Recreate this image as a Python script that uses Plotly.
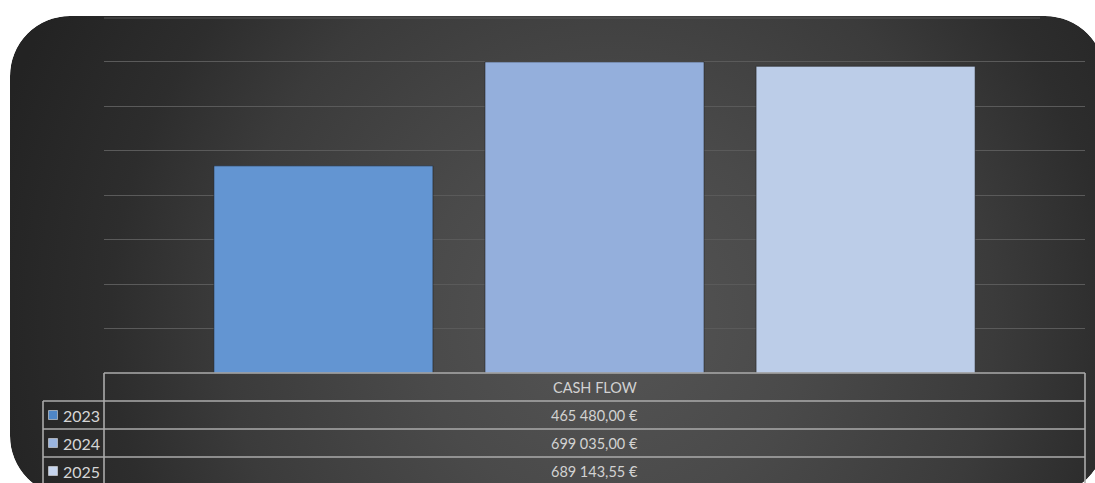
import base64
import plotly.graph_objects as go

# ---- data ----
category = ["CASH FLOW"]
years = ["2023", "2024", "2025"]
cash_flow = [465480.00, 699035.00, 689143.55]
bar_colors = ["#6395d2", "#94afdc", "#bccde8"]
key_colors = ["#4f86c6", "#9ab5e0", "#c6d5ee"]
y_max = 800000
y_step = 100000

W, H = 1095, 483


def px(x):
    return x / W


def py(y):
    return 1 - y / H


def fmt_eur(v):
    s = f"{v:,.2f}"
    s = s.replace(",", "\u202f").replace(".", ",")
    return s + "\u00a0€"


def svg_uri(s):
    return "data:image/svg+xml;base64," + base64.b64encode(s.encode()).decode()


panel_path = ("M70,16 H1045 A60,60 0 0 1 1105,76 V436 A60,60 0 0 1 1045,496 "
              "H70 A60,60 0 0 1 10,436 V76 A60,60 0 0 1 70,16 Z")

# background: white page with a dark rounded panel and radial gradient
bg_svg = f"""<svg xmlns='http://www.w3.org/2000/svg' width='{W}' height='{H}' viewBox='0 0 {W} {H}' preserveAspectRatio='none'>
<defs>
<radialGradient id='g' gradientUnits='userSpaceOnUse' cx='610' cy='320' r='640'>
<stop offset='0' stop-color='#555555'/>
<stop offset='0.3' stop-color='#4a4a4a'/>
<stop offset='0.6' stop-color='#3b3b3b'/>
<stop offset='0.78' stop-color='#2d2d2d'/>
<stop offset='1' stop-color='#232323'/>
</radialGradient>
</defs>
<rect x='0' y='0' width='{W}' height='{H}' fill='#ffffff'/>
<path d='{panel_path}' fill='url(#g)'/>
<line x1='104' y1='18' x2='1040' y2='18' stroke='#565656' stroke-width='1'/>
</svg>"""

# mask: white outside the rounded panel, drawn above everything
mask_svg = f"""<svg xmlns='http://www.w3.org/2000/svg' width='{W}' height='{H}' viewBox='0 0 {W} {H}' preserveAspectRatio='none'>
<path fill-rule='evenodd' fill='#ffffff' d='M0,0 H{W} V{H} H0 Z {panel_path}'/>
</svg>"""

fig = go.Figure()
for yr, val, col in zip(years, cash_flow, bar_colors):
    fig.add_trace(go.Bar(
        x=category, y=[val], name=yr,
        marker=dict(color=col, line=dict(color="rgba(30,30,30,0.55)", width=1)),
        showlegend=False, hoverinfo="skip",
    ))

shapes = []
annotations = []
line_col = "#ababab"
lw = 1.6
tbl_left, lab_left, tbl_right = 104, 43, 1085
header_top, row_tops = 373, [401, 429, 457]
bottom = 490

shapes.append(dict(type="line", xref="paper", yref="paper", x0=px(tbl_left), x1=px(tbl_right),
                   y0=py(header_top), y1=py(header_top), line=dict(color=line_col, width=lw)))
for rt in row_tops:
    shapes.append(dict(type="line", xref="paper", yref="paper", x0=px(lab_left), x1=px(tbl_right),
                       y0=py(rt), y1=py(rt), line=dict(color=line_col, width=lw)))
shapes.append(dict(type="line", xref="paper", yref="paper", x0=px(tbl_left), x1=px(tbl_left),
                   y0=py(header_top), y1=py(bottom), line=dict(color=line_col, width=lw)))
shapes.append(dict(type="line", xref="paper", yref="paper", x0=px(tbl_right), x1=px(tbl_right),
                   y0=py(header_top), y1=py(bottom), line=dict(color=line_col, width=lw)))
shapes.append(dict(type="line", xref="paper", yref="paper", x0=px(lab_left), x1=px(lab_left),
                   y0=py(row_tops[0]), y1=py(bottom), line=dict(color=line_col, width=lw)))

font = dict(family="Lato, 'Open Sans', sans-serif", size=14.5, color="#d2d2d2")
center_x = px((tbl_left + tbl_right) / 2)
annotations.append(dict(text=category[0], xref="paper", yref="paper", x=center_x, y=py(387),
                        showarrow=False, font=font, xanchor="center", yanchor="middle"))
for i, (yr, val, kc) in enumerate(zip(years, cash_flow, key_colors)):
    cy = row_tops[i] + 14
    annotations.append(dict(text=fmt_eur(val), xref="paper", yref="paper", x=center_x, y=py(cy),
                            showarrow=False, font=font, xanchor="center", yanchor="middle"))
    annotations.append(dict(text=yr, xref="paper", yref="paper", x=px(61), y=py(cy),
                            showarrow=False, font=dict(family=font["family"], size=16, color="#d6d6d6"),
                            xanchor="left", yanchor="middle"))
    shapes.append(dict(type="rect", xref="paper", yref="paper", x0=px(48.5), x1=px(57.5),
                       y0=py(cy - 4.5), y1=py(cy + 4.5), fillcolor=kc,
                       line=dict(color="#dddddd", width=0.6)))

fig.update_layout(
    template="none",
    width=W, height=H,
    margin=dict(l=0, r=0, t=0, b=0),
    paper_bgcolor="rgba(0,0,0,0)",
    plot_bgcolor="rgba(0,0,0,0)",
    barmode="group",
    bargap=0.171,
    bargroupgap=0.192,
    images=[
        dict(source=svg_uri(bg_svg), xref="paper", yref="paper", x=0, y=1, sizex=1, sizey=1,
             sizing="stretch", layer="below", xanchor="left", yanchor="top"),
        dict(source=svg_uri(mask_svg), xref="paper", yref="paper", x=0, y=1, sizex=1, sizey=1,
             sizing="stretch", layer="above", xanchor="left", yanchor="top"),
    ],
    xaxis=dict(domain=[px(tbl_left), px(tbl_right)], showticklabels=False, showgrid=False,
               zeroline=False, showline=False, ticks="", range=[-0.5, 0.5]),
    yaxis=dict(domain=[py(373), py(17)], range=[0, y_max], tickmode="array",
               tickvals=list(range(0, y_max, y_step)), showticklabels=False, ticks="",
               showgrid=True, gridcolor="#5a5a5a", gridwidth=1, zeroline=False, showline=False),
    shapes=shapes,
    annotations=annotations,
)

fig.write_html(
    "out.html",
    config={"displayModeBar": False, "staticPlot": True},
    post_script="document.body.style.margin='0';document.body.style.padding='0';"
                "document.body.style.overflow='hidden';",
)
